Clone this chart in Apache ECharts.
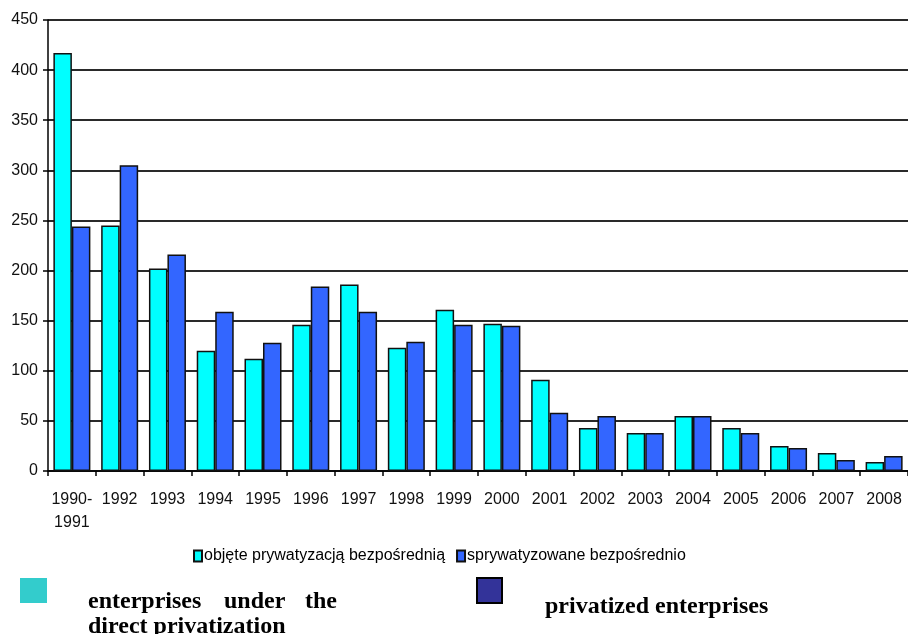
<!DOCTYPE html>
<html>
<head>
<meta charset="utf-8">
<script src="https://cdn.jsdelivr.net/npm/echarts@6/dist/echarts.min.js"></script>
<style>
html,body{margin:0;padding:0;background:#fff;}
#chart{width:908px;height:634px;}
</style>
</head>
<body>
<div id="chart"></div>
<script>
var categories = ['1990-\n1991','1992','1993','1994','1995','1996','1997','1998','1999','2000','2001','2002','2003','2004','2005','2006','2007','2008'];
var seriesNames = ['objęte prywatyzacją bezpośrednią','sprywatyzowane bezpośrednio'];
var underDirect = [417,245,202,120,112,146,186,123,161,147,91,43,38,55,43,25,18,9];
var privatized  = [244,305,216,159,128,184,159,129,146,145,58,55,38,55,38,23,11,15];
var yTicks = {min:0, max:450, interval:50};

var chart = echarts.init(document.getElementById('chart'));
var labelFont = 'Liberation Sans, Arial, sans-serif';
var serif = 'Liberation Serif, Times New Roman, serif';
chart.setOption({
  animation:false,
  backgroundColor:'#fff',
  grid:{left:48, top:20, width:863, height:451, containLabel:false},
  legend:{
    left:188, top:543, itemWidth:8, itemHeight:11, itemGap:11,
    icon:'rect',
    textStyle:{fontFamily:labelFont, fontSize:16, color:'#000', padding:[0,0,0,-3]},
    data:seriesNames
  },
  xAxis:{
    type:'category', data:categories,
    axisLine:{lineStyle:{color:'#000', width:1.5}},
    axisTick:{show:true, length:5, lineStyle:{color:'#000', width:1.5}, alignWithLabel:false},
    axisLabel:{fontFamily:labelFont, fontSize:16, color:'#111', margin:17, lineHeight:23, interval:0, verticalAlign:'top'}
  },
  yAxis:{
    type:'value', min:yTicks.min, max:yTicks.max, interval:yTicks.interval,
    axisLine:{show:true, lineStyle:{color:'#000', width:1.5}},
    axisTick:{show:true, length:5, lineStyle:{color:'#000', width:1.5}},
    axisLabel:{fontFamily:labelFont, fontSize:16, color:'#111', margin:10},
    splitLine:{lineStyle:{color:'#2a2a2a', width:2}}
  },
  series:[
    {name:seriesNames[0], type:'bar', data:underDirect, barWidth:18.5, barGap:'0%',
     itemStyle:{color:'#00FFFF', borderColor:'#111', borderWidth:1.5}},
    {name:seriesNames[1], type:'bar', data:privatized, barWidth:18.5, barGap:'0%',
     itemStyle:{color:'#3366FF', borderColor:'#111', borderWidth:1.5}}
  ],
  graphic:[
    {type:'rect', shape:{x:20, y:578, width:27, height:25}, style:{fill:'#33CCCC'}},
    {type:'rect', shape:{x:477, y:578, width:25, height:25}, style:{fill:'#333399', stroke:'#000', lineWidth:2}},
    {type:'text', left:88, top:590, style:{text:'enterprises', font:'bold 24px '+serif, fill:'#000'}},
    {type:'text', left:224, top:590, style:{text:'under', font:'bold 24px '+serif, fill:'#000'}},
    {type:'text', left:305, top:590, style:{text:'the', font:'bold 24px '+serif, fill:'#000'}},
    {type:'text', left:88, top:615, style:{text:'direct privatization', font:'bold 24px '+serif, fill:'#000'}},
    {type:'text', left:545, top:595, style:{text:'privatized enterprises', font:'bold 24px '+serif, fill:'#000'}}
  ]
});
</script>
</body>
</html>
